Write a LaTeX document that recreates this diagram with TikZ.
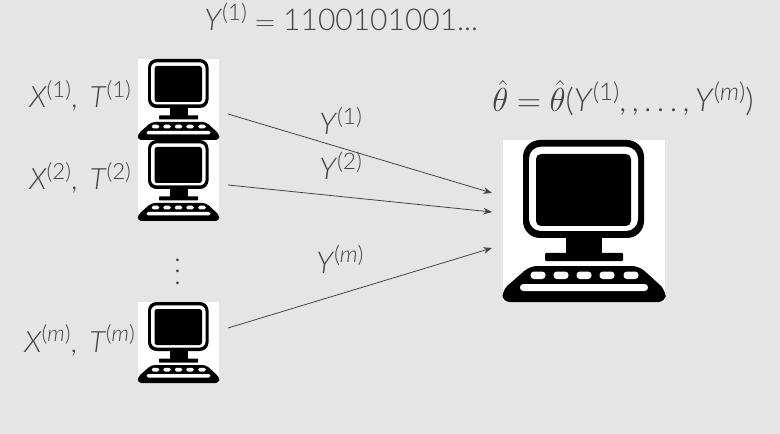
\documentclass[tikz,border=0pt]{standalone}
\usepackage{fontspec}
\usepackage{graphicx}
\setmainfont{Lato Light}[ItalicFont={Lato Light Italic}]
\usetikzlibrary{arrows.meta}
\definecolor{bgc}{HTML}{E5E5E5}
\definecolor{txt}{HTML}{444444}
\tikzset{
  lab/.style={text=txt,font=\fontsize{#1}{#1}\selectfont,inner sep=0pt,anchor=base west},
  lab/.default={22},
  conn/.style={draw=txt,line width=0.6pt,-{Stealth[length=6.5pt,width=5pt]}},
  holder/.style={fill=white,draw=none,inner sep=0pt,minimum width=#1*0.75pt,minimum height=#1*0.75pt,anchor=north west},
}
\newcommand{\Vr}[2]{\textit{#1}\raisebox{.36em}{\scalebox{.76}{(#2)}}}
% #1 name, #2 x, #3 y, #4 size px
\newcommand{\compu}[4]{%
  \node[holder=#4] (#1) at (#2,#3) {};
  \begin{scope}[shift={(#2,#3)},x=#4/162*0.75pt,y=-#4/162*0.75pt]
    \pgfmathsetmacro{\rr}{#4/162*0.75}
    \fill[black,rounded corners=17*\rr pt] (20,0) rectangle (141,98);
    \fill[white,rounded corners=12*\rr pt] (26,6.7) rectangle (135,91);
    \fill[black,rounded corners=5*\rr pt] (33,14) rectangle (128,86);
    \fill[black] (63,97) rectangle (99,114);
    \fill[black,rounded corners=1*\rr pt] (42,113) rectangle (120,121);
    \fill[black,rounded corners=7*\rr pt] (27,126) -- (136,126) -- (162.5,150) -- (162.5,162) -- (-0.5,162) -- (-0.5,150) -- cycle;
    \foreach \kx in {35,58,81,104,128}{
      \fill[white,rounded corners=3.4*\rr pt] (\kx-7.5,131.5) rectangle (\kx+7.5,139);
    }
    \fill[white,rounded corners=3.4*\rr pt] (17,144) rectangle (145,151);
  \end{scope}}
\begin{document}
\begin{tikzpicture}[x=0.75pt,y=-0.75pt]
\fill[bgc] (0,0) rectangle (780,434);
\useasboundingbox (0,0) rectangle (780,434);
\compu{ca}{138}{59}{81}
\compu{cb}{138}{140}{81}
\compu{cc}{138}{302}{81}
\compu{srv}{503}{140}{162}
\node[lab=22.5] (top) at (204,31) {\Vr{Y}{1} $=$ 1100101001...};
\node[lab] (la) at (29,108) {\Vr{X}{1},\hspace{.42em}\Vr{T}{1}};
\node[lab] (lb) at (29,190) {\Vr{X}{2},\hspace{.42em}\Vr{T}{2}};
\node[lab] (lc) at (24,352) {\Vr{X}{\textit{m}},\hspace{.42em}\Vr{T}{\textit{m}}};
\node[lab=22.5] (ya) at (319,135) {\Vr{Y}{1}};
\node[lab=22.5] (yb) at (319,180) {\Vr{Y}{2}};
\node[lab=22.5] (yc) at (316,273) {\Vr{Y}{\textit{m}}};
\node[lab=24] (theta) at (492,112) {$\hat{\theta}$ $=$ $\hat{\theta}$(\Vr{Y}{1},\,,\,.\,.\,.\,,\,\Vr{Y}{\textit{m}})};
\node[text=txt,inner sep=0pt] (dots) at (177.5,263) {\scalebox{2.2}{$\vdots$}};
\coordinate (sa) at (228,114); \coordinate (ea) at (492,193);
\coordinate (sb) at (228,185); \coordinate (eb) at (492,212);
\coordinate (sc) at (228,328); \coordinate (ec) at (492,248);
\draw[conn] (sa) -- (ea);
\draw[conn] (sb) -- (eb);
\draw[conn] (sc) -- (ec);
\end{tikzpicture}
\end{document}
